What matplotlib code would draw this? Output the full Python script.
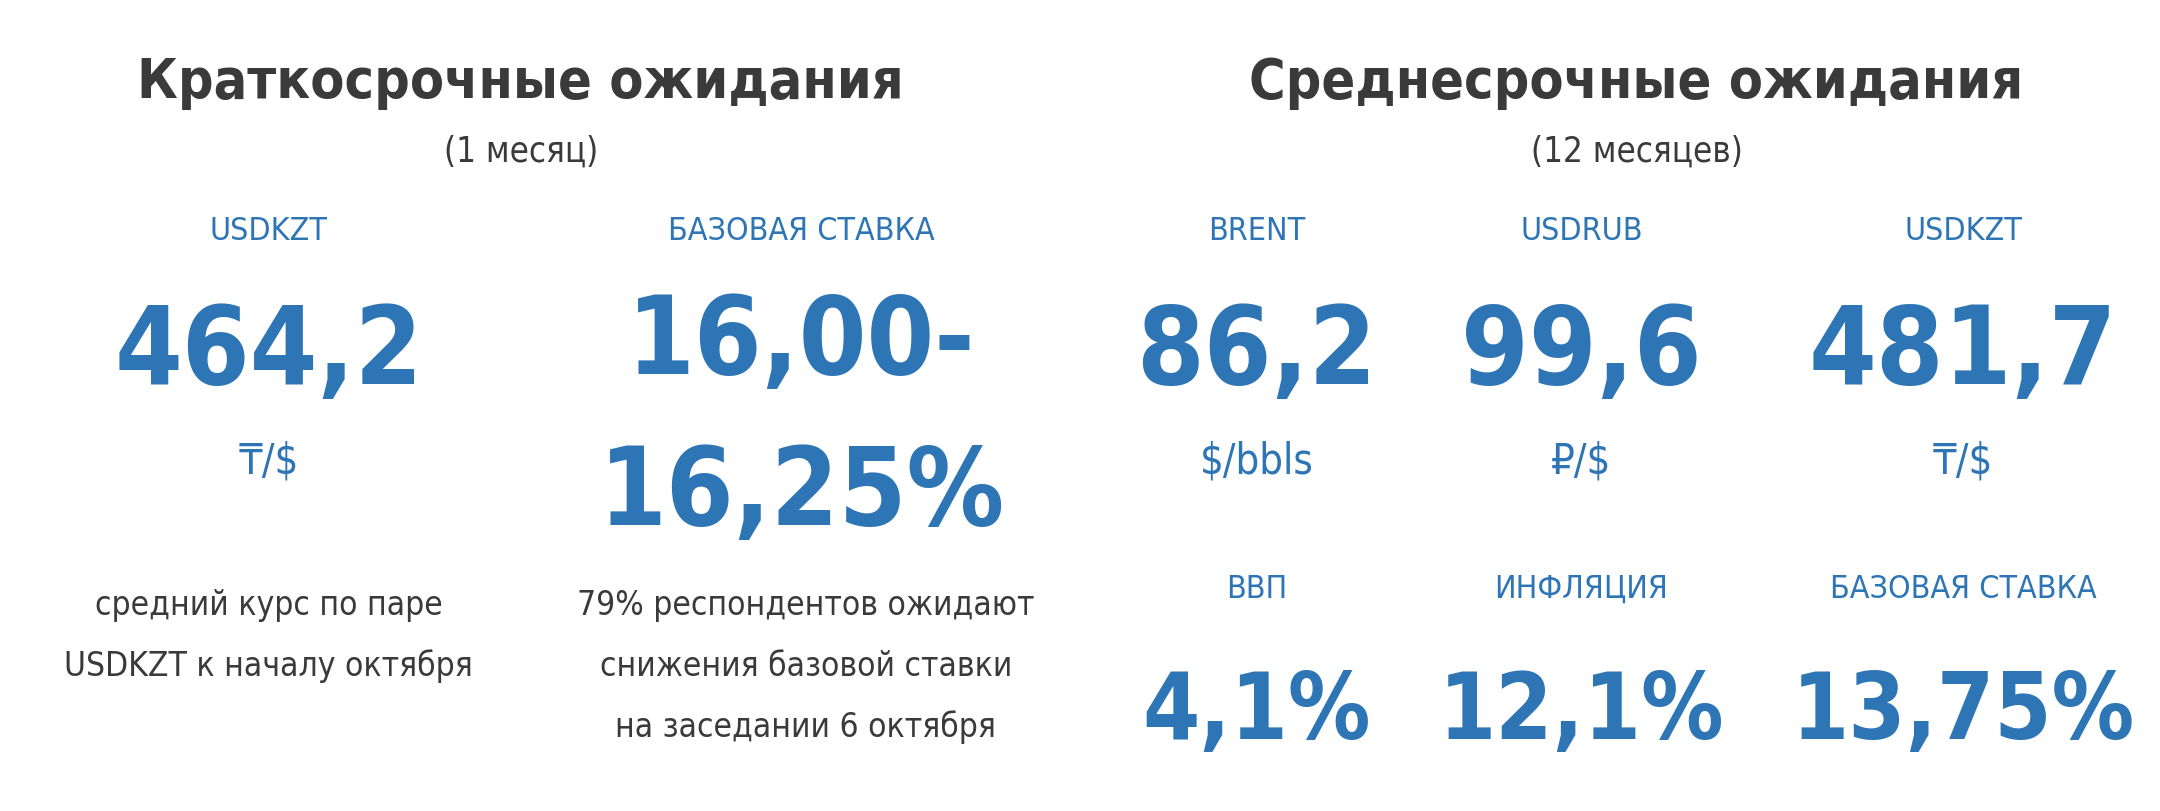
import matplotlib
matplotlib.use("Agg")
import matplotlib.pyplot as plt

W, H = 1568, 590
FAM = ['DejaVu Sans']
BLUE = '#2e75b6'
DARK = '#3a3a3a'

titles = [("Краткосрочные ожидания", "(1 месяц)", 378), ("Среднесрочные ожидания", "(12 месяцев)", 1188)]
top_labels = ["USDKZT", "БАЗОВАЯ СТАВКА", "BRENT", "USDRUB", "USDKZT"]
top_values = ["464,2", "16,00-\n16,25%", "86,2", "99,6", "481,7"]
top_units = ["₸/$", "", "$/bbls", "₽/$", "₸/$"]
top_x = [195, 582, 912, 1148, 1425]
bottom_labels = ["ВВП", "ИНФЛЯЦИЯ", "БАЗОВАЯ СТАВКА"]
bottom_values = ["4,1%", "12,1%", "13,75%"]
bottom_x = [912, 1148, 1425]
notes = [("средний курс по паре\nUSDKZT к началу октября", 195),
         ("79% респондентов ожидают\nснижения базовой ставки\nна заседании 6 октября", 585)]

fig = plt.figure(figsize=(21.6, 8.12), dpi=100)
fig.patch.set_facecolor('white')

def t(x, y, s, **kw):
    fig.text(x / W, 1 - y / H, s, ha='center', va='center', family=FAM,
             fontstretch='condensed', **kw)

for title, sub, x in titles:
    t(x, 60, title, fontsize=40, weight='bold', color=DARK)
    t(x, 110, sub, fontsize=25, color=DARK)

for lab, val, unit, x in zip(top_labels, top_values, top_units, top_x):
    t(x, 168, lab, fontsize=23, color=BLUE)
    if "\n" in val:
        a, b = val.split("\n")
        t(x, 250, a, fontsize=78, weight='bold', color=BLUE)
        t(x, 360, b, fontsize=78, weight='bold', color=BLUE)
    else:
        t(x, 257, val, fontsize=78, weight='bold', color=BLUE)
    if unit:
        t(x, 335, unit, fontsize=30, color=BLUE)

for lab, val, x in zip(bottom_labels, bottom_values, bottom_x):
    t(x, 428, lab, fontsize=23, color=BLUE)
    t(x, 518, val, fontsize=66, weight='bold', color=BLUE)

for s, x in notes:
    lines = s.split("\n")
    for i, line in enumerate(lines):
        t(x, 440 + i * 44, line, fontsize=24, color=DARK)

fig.savefig("out.png", dpi=100, facecolor='white')
